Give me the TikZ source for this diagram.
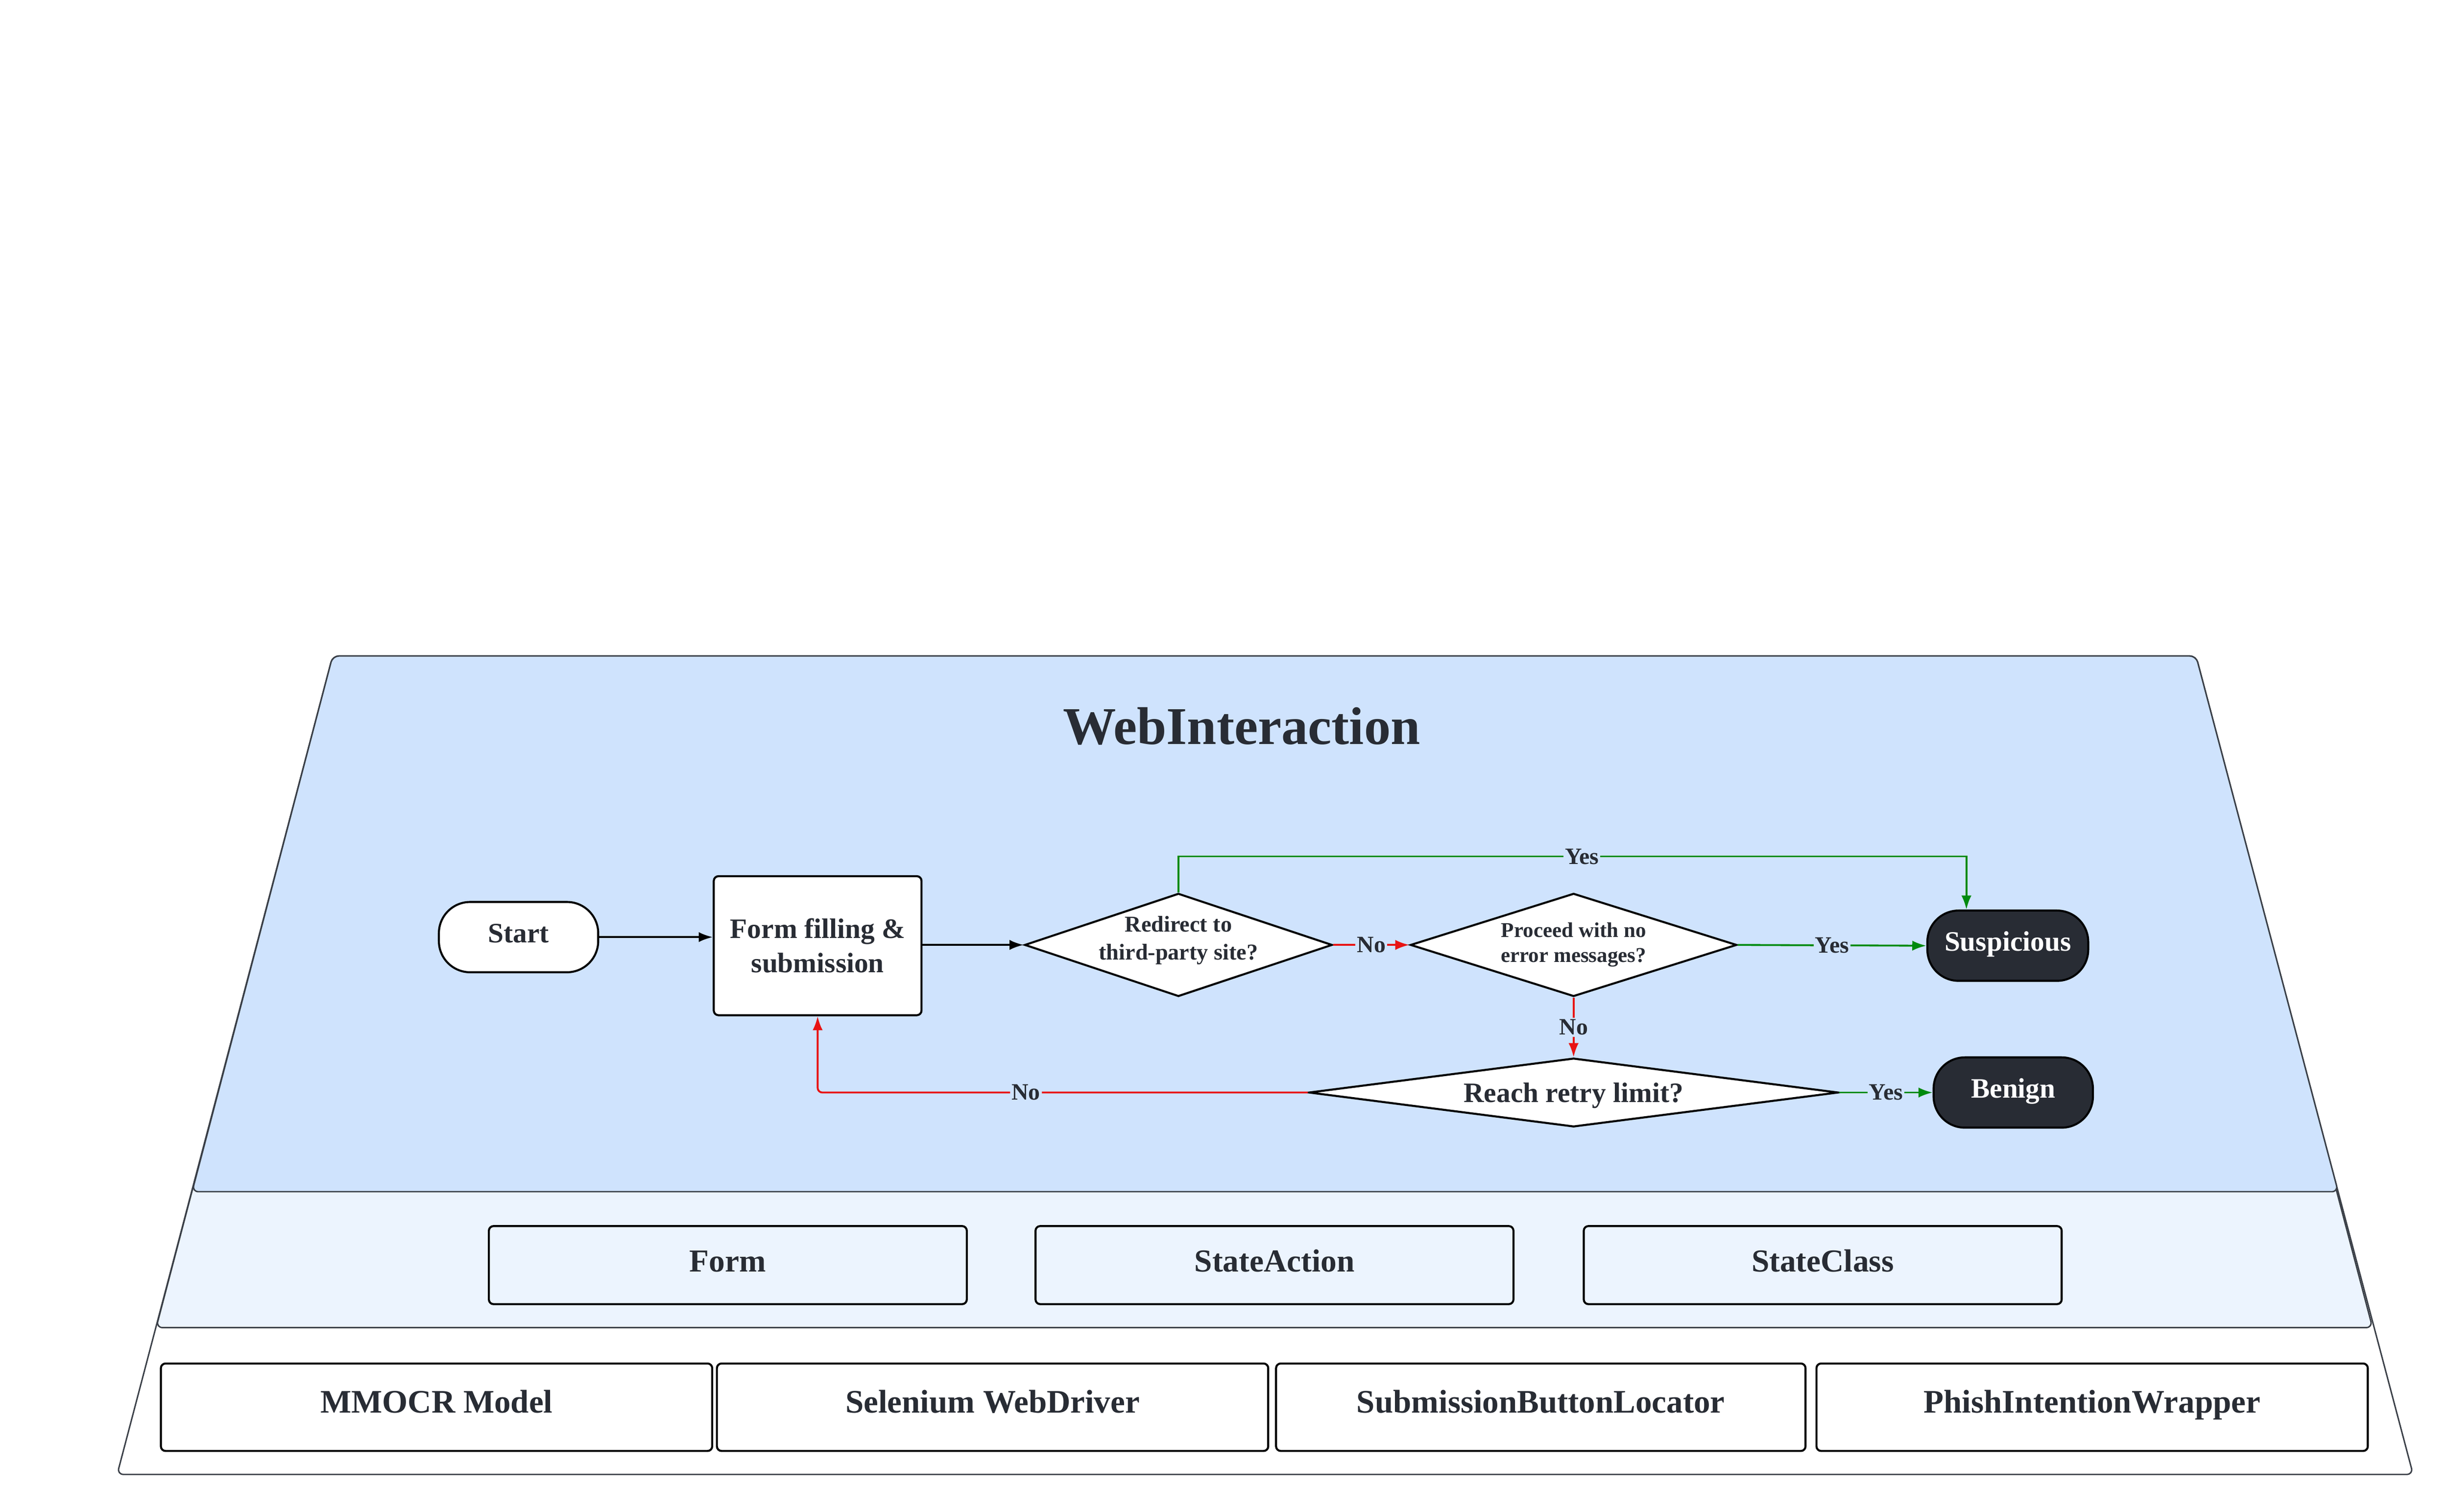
\documentclass[tikz,border=0pt]{standalone}
\usepackage{fontspec}
\setmainfont{Liberation Serif}
\usetikzlibrary{shapes.geometric,arrows.meta,calc}
\definecolor{ink}{HTML}{282C34}
\definecolor{topfill}{HTML}{CFE3FD}
\definecolor{midfill}{HTML}{ECF4FE}
\definecolor{edgegray}{HTML}{3A3F47}
\definecolor{okgreen}{HTML}{008A0E}
\definecolor{nored}{HTML}{E81313}
\tikzset{
  layer/.style={draw=edgegray, line width=0.9pt, rounded corners=4pt},
  process/.style={draw=black, line width=1.3pt, fill=white, rounded corners=3pt,
    text=ink, align=center, inner sep=0pt, font=\bfseries\fontsize{18}{22}\selectfont},
  startstop/.style={process, rounded corners=20pt, minimum width=102pt, minimum height=45pt,
    text height=12.5pt, text depth=5.6pt},
  darkstop/.style={startstop, fill=ink, text=white},
  decision/.style={diamond, draw=black, line width=1.3pt, fill=white, inner sep=0pt},
  dtext/.style={text=ink, align=center, inner sep=0pt},
  module/.style={draw=black, line width=1.3pt, rounded corners=3pt, text=ink, inner sep=0pt,
    text height=14pt, text depth=5.7pt, font=\bfseries\fontsize{20.5}{24}\selectfont},
  libbox/.style={draw=black, line width=1.3pt, fill=white, rounded corners=3pt, text=ink,
    inner sep=0pt, minimum height=56pt, text height=14.5pt, text depth=7.2pt,
    font=\bfseries\fontsize{21}{25}\selectfont},
  conn/.style={line width=1.2pt, -{Latex[length=9pt,width=6.5pt]}},
  lbl/.style={font=\bfseries\fontsize{15}{17}\selectfont, text=ink, fill=topfill, inner sep=1pt}
}
\begin{document}
\begin{tikzpicture}[x=1pt,y=1pt]
\useasboundingbox (0,0) rectangle (1568,-968);
% layers
\path[layer, fill=white] (213,-420) -- (75,-944) -- (1545,-944) -- (1406,-420) -- cycle;
\path[layer, fill=midfill] (213,-420) -- (100,-850) -- (1519,-850) -- (1406,-420) -- cycle;
\path[layer, fill=topfill] (213,-420) -- (123,-763) -- (1497,-763) -- (1406,-420) -- cycle;
\node[text=ink, font=\bfseries\fontsize{34}{40}\selectfont] (title) at (795,-465) {WebInteraction};
% flow nodes
\node[startstop] (start) at (332,-600) {Start};
\node[process, minimum width=133pt, minimum height=89pt] (form) at (523.5,-605.5) {Form filling \&\\submission};
\node[decision, minimum width=197pt, minimum height=66pt,
  label={[dtext, yshift=3pt, font=\bfseries\fontsize{14.5}{18}\selectfont]center:Redirect to\\third-party site?}] (d1) at (754.5,-605) {};
\node[decision, minimum width=209pt, minimum height=66pt,
  label={[dtext, yshift=0pt, font=\bfseries\fontsize{13.5}{16}\selectfont]center:Proceed with no\\error messages?}] (d2) at (1007.5,-605) {};
\node[darkstop, minimum width=103pt] (susp) at (1285.5,-605.5) {Suspicious};
\node[decision, minimum width=339pt, minimum height=44pt,
  label={[dtext, yshift=-2pt, font=\bfseries\fontsize{18}{22}\selectfont]center:Reach retry limit?}] (retry) at (1007.5,-699.5) {};
\node[darkstop] (benign) at (1289,-699.5) {Benign};
% connectors
\draw[conn] (start.east) -- (start.east -| form.west);
\draw[conn] (form.east |- d1.west) -- (d1.west);
\draw[conn, nored] (d1.east) -- node[lbl]{No} (d2.west);
\draw[conn, okgreen] (d2.east) -- node[lbl]{Yes} (susp.west);
\coordinate (susptop) at ($(susp.north)+(-26.5,0)$);
\draw[conn, okgreen] (d1.north) -- ++(0,23) -| node[lbl, pos=0.256]{Yes} (susptop);
\draw[conn, nored] (d2.south) -- node[lbl]{No} (retry.north);
\draw[conn, okgreen] (retry.east) -- node[lbl]{Yes} (benign.west);
\draw[conn, nored, rounded corners=3pt] (retry.west) -| node[lbl, pos=0.2875]{No} (form.south);
% modules
\node[module, fill=midfill, minimum width=306pt, minimum height=50pt] (mform) at (466,-810) {Form};
\node[module, fill=midfill, minimum width=306pt, minimum height=50pt] (mstate) at (816,-810) {StateAction};
\node[module, fill=midfill, minimum width=306pt, minimum height=50pt] (mclass) at (1167,-810) {StateClass};
% libraries
\node[libbox, minimum width=353pt] (mmocr) at (279.5,-901) {MMOCR Model};
\node[libbox, minimum width=353pt] (selen) at (635.5,-901) {Selenium WebDriver};
\node[libbox, minimum width=339pt] (sbl) at (986.5,-901) {SubmissionButtonLocator};
\node[libbox, minimum width=353pt] (piw) at (1339.5,-901) {PhishIntentionWrapper};
\end{tikzpicture}
\end{document}
